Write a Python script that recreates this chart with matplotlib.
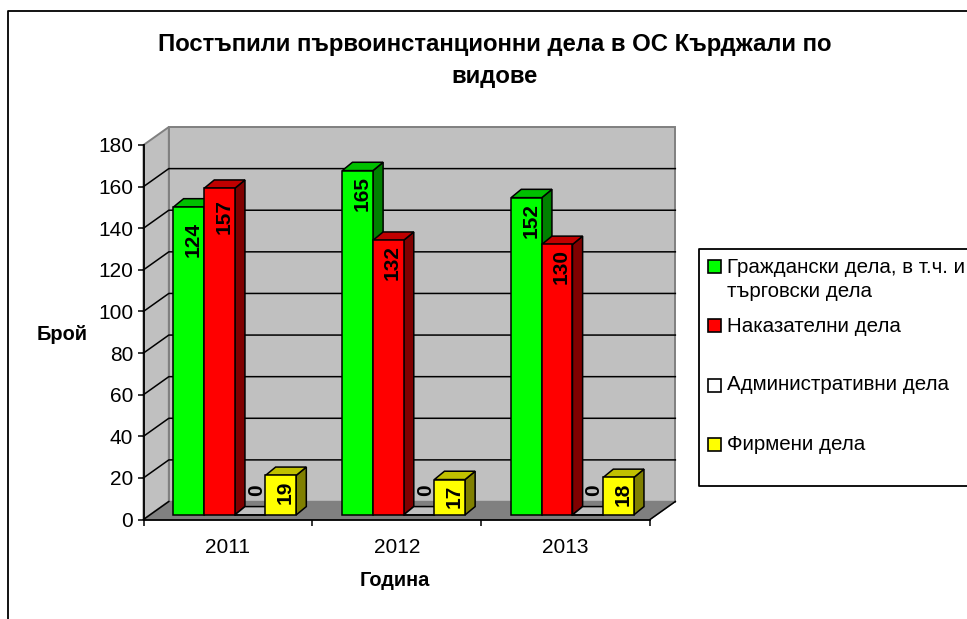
# Grouped pseudo-3D bars, drawn by hand on a normal 2D axes

import matplotlib
matplotlib.use('Agg')
import matplotlib.pyplot as plt
from matplotlib.patches import Polygon, Rectangle
from matplotlib.lines import Line2D

plt.rcParams['font.family'] = ['Liberation Sans', 'DejaVu Sans']
plt.rcParams['font.size'] = 15

years = ['2011', '2012', '2013']
legend_labels = ['Граждански дела, в т.ч. и\nтърговски дела', 'Наказателни дела',
                 'Административни дела', 'Фирмени дела']

# bar heights as drawn (the first green bar is taller than its printed label)
civil = [148, 165.5, 152.5]
criminal = [157, 132, 130]
admin = [0, 0, 0]
company = [19, 17, 18]

# printed labels
civil_labels = [124, 165, 152]
criminal_labels = [157, 132, 130]
admin_labels = [0, 0, 0]
company_labels = [19, 17, 18]

heights = [civil, criminal, admin, company]
labels = [civil_labels, criminal_labels, admin_labels, company_labels]

front = ['#00ff00', '#ff0000', '#ffffff', '#ffff00']
top = ['#00c000', '#c00000', '#c0c0c0', '#c0c000']
side = ['#008000', '#800000', '#808080', '#808000']

W, H = 967, 619
fig = plt.figure(figsize=(W / 100, H / 100), dpi=100)
ax = fig.add_axes([143.5 / W, 1 - 519.5 / H, 506.5 / W, 374.5 / H])
ax.set_xlim(0, 3)
ax.set_ylim(0, 180)
ax.patch.set_visible(False)

# depth of the box and of the bars, in data units
wall_dx, wall_dy = 0.15, 8.65
bar_dx, bar_dy = 0.06, 4.0
bar_base = 2.2
bar_w = 0.1817
first_bar = 0.1775

GRID = 1.1
WALL = '#c0c0c0'
EDGE = '#808080'

ax.add_patch(Polygon([(0, 0), (wall_dx, wall_dy), (wall_dx, 180 + wall_dy), (0, 180)],
                     fc=WALL, ec=EDGE, lw=1.4, clip_on=False, zorder=1))
ax.add_patch(Polygon([(wall_dx, wall_dy), (3 + wall_dx, wall_dy), (3 + wall_dx, 180 + wall_dy),
                      (wall_dx, 180 + wall_dy)],
                     fc=WALL, ec=EDGE, lw=1.4, clip_on=False, zorder=1))
ax.add_patch(Polygon([(0, 0), (3, 0), (3 + wall_dx, wall_dy), (wall_dx, wall_dy)],
                     fc=EDGE, ec=EDGE, lw=1.0, clip_on=False, zorder=1.5))

for v in range(20, 180, 20):
    ax.plot([0, wall_dx, 3 + wall_dx], [v, v + wall_dy, v + wall_dy], color='black', lw=GRID,
            clip_on=False, zorder=2)
ax.plot([0, wall_dx], [0, wall_dy], color='black', lw=GRID, clip_on=False, zorder=2)
ax.plot([3, 3 + wall_dx], [0, wall_dy], color='black', lw=GRID, clip_on=False, zorder=2)

# text placement: how far below the bar top a label starts, in px
drops = {(0, 0): 15, (0, 1): 11}
z = 3
for s in range(4):
    for g in range(3):
        h = heights[s][g]
        x0 = g + first_bar + s * bar_w
        x1 = x0 + bar_w
        y1 = bar_base + h
        ax.add_patch(Polygon([(x1, bar_base), (x1 + bar_dx, bar_base + bar_dy),
                              (x1 + bar_dx, y1 + bar_dy), (x1, y1)],
                             fc=side[s], ec='black', lw=GRID, clip_on=False, zorder=z))
        ax.add_patch(Polygon([(x0, y1), (x1, y1), (x1 + bar_dx, y1 + bar_dy), (x0 + bar_dx, y1 + bar_dy)],
                             fc=top[s], ec='black', lw=GRID, clip_on=False, zorder=z))
        if h > 0:
            ax.bar(x0, h, bar_w, bottom=bar_base, align='edge', color=front[s], edgecolor='black',
                   lw=GRID, zorder=z, clip_on=False)
        else:
            ax.plot([x0, x1], [bar_base, bar_base], color='black', lw=GRID, zorder=z, clip_on=False)
        z += 0.01

for s in range(4):
    for g in range(3):
        x = g + first_bar + (s + 0.5) * bar_w
        y = bar_base + heights[s][g]
        drop = drops.get((g, s), 5)
        shift = 3.0
        if heights[s][g] == 0:
            drop = -31
            shift = 4.5
        ax.annotate(str(labels[s][g]), xy=(x, y), xytext=(shift, -drop * 0.72), textcoords='offset points',
                    rotation=90, ha='center', va='top', fontweight='bold', zorder=10)

for name in ['top', 'right']:
    ax.spines[name].set_visible(False)
for name in ['left', 'bottom']:
    ax.spines[name].set_linewidth(1.3)
    ax.spines[name].set_zorder(2.5)
ax.set_yticks(range(0, 181, 20))
ax.set_xticks([0, 1, 2, 3])
ax.set_xticklabels([])
ax.set_xticks([0.5, 1.5, 2.5], minor=True)
ax.set_xticklabels(years, minor=True)
ax.tick_params(axis='x', which='minor', length=0, pad=13)
ax.tick_params(axis='x', which='major', length=4.5, width=1.1)
ax.tick_params(axis='y', length=4.5, width=1.1, pad=3)


def px(x, y):
    return x / W, 1 - y / H


fig.text(*px(495, 45), 'Постъпили първоинстанционни дела в ОС Кърджали по', ha='center', va='center',
         fontweight='bold', fontsize=17.2)
fig.text(*px(495, 77), 'видове', ha='center', va='center', fontweight='bold', fontsize=17.2)
fig.text(*px(37, 335), 'Брой', ha='left', va='center', fontweight='bold', fontsize=14.4)
fig.text(*px(394.5, 581), 'Година', ha='center', va='center', fontweight='bold', fontsize=14.4)

# chart frame, open to the right and bottom
fig.add_artist(Line2D([8 / W, 8 / W, 1], [0, 1 - 11 / H, 1 - 11 / H], color='black', lw=1.3))

# legend box runs off the right edge like the reference
fig.add_artist(Line2D([1, 699 / W, 699 / W, 1],
                      [1 - 249 / H, 1 - 249 / H, 1 - 486 / H, 1 - 486 / H], color='black', lw=1.3))
swatch_y = [260, 319, 379, 438]
text_y = [279.5, 326, 385, 445]
for i in range(4):
    xx, yy = px(708, swatch_y[i] + 13)
    fig.add_artist(Rectangle((xx, yy), 13 / W, 13 / H, transform=fig.transFigure, fc=front[i],
                             ec='black', lw=1.2))
    fig.text(*px(727, text_y[i]), legend_labels[i], ha='left', va='center', fontsize=14.8,
             linespacing=1.3)

fig.savefig('out.png', dpi=100)
